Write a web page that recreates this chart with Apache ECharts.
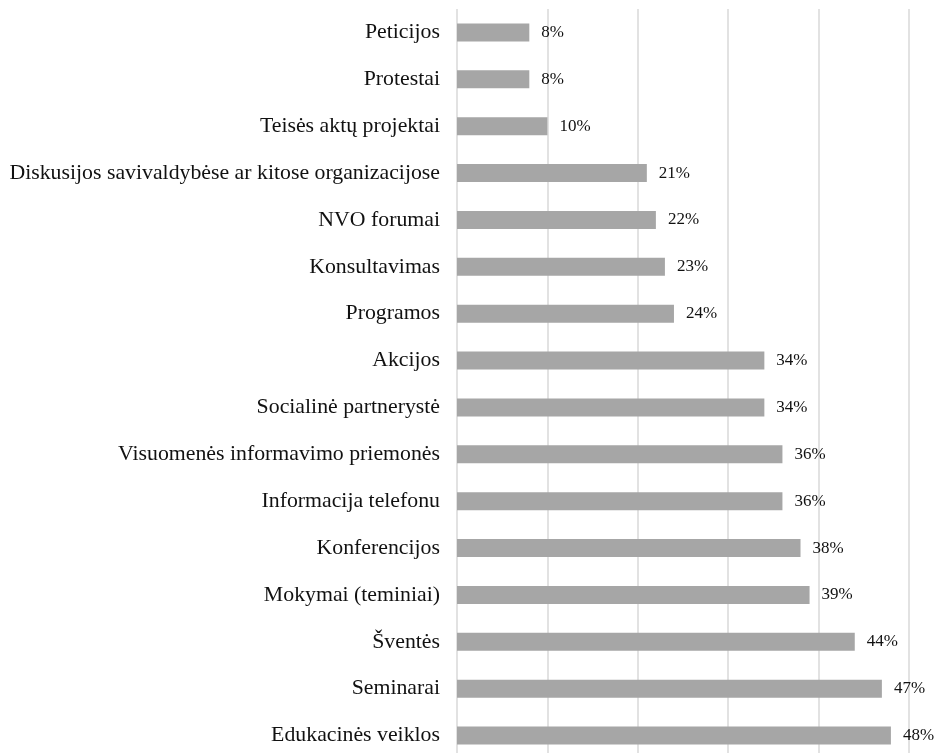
<!DOCTYPE html>
<html>
<head>
<meta charset="utf-8">
<script src="https://cdn.jsdelivr.net/npm/echarts@6/dist/echarts.min.js"></script>
<style>
  html, body { margin: 0; padding: 0; background: #fff; }
  #chart { width: 941px; height: 753px; }
</style>
</head>
<body>
<div id="chart"></div>
<script>
// kategorijos (iš viršaus į apačią)
const categories = [
  'Peticijos',
  'Protestai',
  'Teisės aktų projektai',
  'Diskusijos savivaldybėse ar kitose organizacijose',
  'NVO forumai',
  'Konsultavimas',
  'Programos',
  'Akcijos',
  'Socialinė partnerystė',
  'Visuomenės informavimo priemonės',
  'Informacija telefonu',
  'Konferencijos',
  'Mokymai (teminiai)',
  'Šventės',
  'Seminarai',
  'Edukacinės veiklos'
]
const values = [8, 8, 10, 21, 22, 23, 24, 34, 34, 36, 36, 38, 39, 44, 47, 48]

const chart = echarts.init(document.getElementById('chart'))
chart.setOption({
  animation: false,
  textStyle: { fontFamily: 'Liberation Serif' },
  grid: { left: 457, right: 32, top: 9, bottom: -6, outerBoundsMode: 'none' },
  xAxis: {
    type: 'value',
    min: 0,
    max: 50,
    interval: 10,
    axisLabel: { show: false },
    axisLine: { show: false },
    axisTick: { show: false },
    splitLine: { show: true, lineStyle: { color: '#d9d9d9', width: 1.5 } }
  },
  yAxis: {
    type: 'category',
    inverse: true,
    data: categories,
    axisLine: { show: false },
    axisTick: { show: false },
    axisLabel: {
      margin: 17,
      color: '#111',
      fontSize: 21.8,
      fontFamily: 'Liberation Serif'
    }
  },
  series: [
    {
      type: 'bar',
      data: values,
      barWidth: 18,
      itemStyle: { color: '#a6a6a6' },
      label: {
        show: true,
        position: 'right',
        distance: 12,
        formatter: '{c}%',
        color: '#111',
        fontSize: 17,
        fontFamily: 'Liberation Serif'
      }
    }
  ]
})
</script>
</body>
</html>
